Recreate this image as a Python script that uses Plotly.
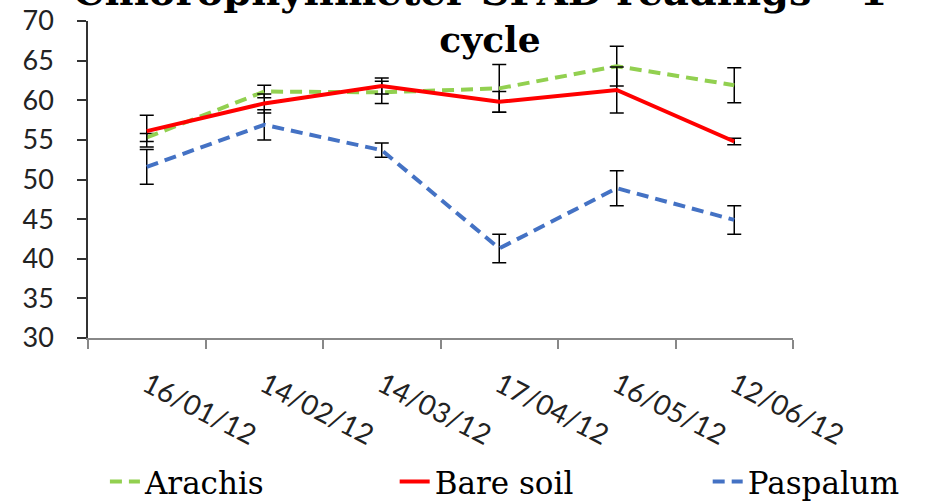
import plotly.graph_objects as go

dates = ["16/01/12", "14/02/12", "14/03/12", "17/04/12", "16/05/12", "12/06/12"]

arachis = [55.3, 61.1, 61.0, 61.5, 64.3, 61.9]
arachis_err = [0.5, 0.8, 1.4, 3.0, 2.5, 2.2]

bare_soil = [56.1, 59.6, 61.8, 59.8, 61.3, 54.8]
bare_soil_err = [2.0, 1.2, 1.0, 1.3, 2.9, 0.4]

paspalum = [51.6, 56.9, 53.7, 41.3, 48.9, 44.9]
paspalum_err = [2.2, 1.9, 0.9, 1.8, 2.2, 1.8]

y_ticks = [30, 35, 40, 45, 50, 55, 60, 65, 70]

title_line1 = "Chlorophyllmeter SPAD readings – 1°"
title_line2 = "cycle"

def err(v):
    return dict(type="data", array=v, visible=True, color="#000000",
                thickness=1.5, width=7)

fig = go.Figure()
fig.add_trace(go.Scatter(
    x=dates, y=arachis, name="Arachis", mode="lines", legend="legend",
    line=dict(color="#92D050", width=4, dash="12px,7px"),
    error_y=err(arachis_err)))
fig.add_trace(go.Scatter(
    x=dates, y=bare_soil, name="Bare soil", mode="lines", legend="legend2",
    line=dict(color="#FF0000", width=4),
    error_y=err(bare_soil_err)))
fig.add_trace(go.Scatter(
    x=dates, y=paspalum, name="Paspalum", mode="lines", legend="legend3",
    line=dict(color="#4472C4", width=4, dash="12px,7px"),
    error_y=err(paspalum_err)))

legend_font = dict(family="DejaVu Serif", size=31, color="#000000")
legend_common = dict(orientation="h", xanchor="left", y=-0.454, yanchor="middle",
                     font=legend_font, bgcolor="rgba(0,0,0,0)")

fig.update_layout(
    width=928, height=502,
    margin=dict(l=88, r=135, t=21, b=164, autoexpand=False),
    paper_bgcolor="white", plot_bgcolor="white",
    title=dict(text='<span style="font-size:40px">' + title_line1 + "</span><br>" + title_line2,
               x=0.528, xanchor="center",
               yref="container", y=0.99, yanchor="bottom",
               font=dict(family="DejaVu Serif", size=36, color="#000000",
                         weight="bold")),
    legend=dict(x=0.024, **legend_common),
    legend2=dict(x=0.435, **legend_common),
    legend3=dict(x=0.879, **legend_common),
    showlegend=True,
)

fig.update_xaxes(
    type="category", range=[-0.5, 5.5], automargin=False,
    showline=True, linecolor="#888888", linewidth=1.5,
    ticks="outside", tickson="boundaries", ticklen=9, tickcolor="#888888",
    tickwidth=1.5, showgrid=False, zeroline=False,
    tickangle=27, ticklabelstandoff=18,
    tickfont=dict(family="Lato", size=28, color="#222222"),
)
fig.update_yaxes(
    range=[30, 70], tickvals=y_ticks, ticktext=[str(v) for v in y_ticks],
    automargin=False,
    showline=True, linecolor="#333333", linewidth=1.5,
    ticks="outside", ticklen=9, tickcolor="#333333", tickwidth=1.5,
    showgrid=False, zeroline=False, ticklabelstandoff=18,
    tickfont=dict(family="Lato", size=27, color="#222222"),
)

fig.write_html("out.html", config={"displayModeBar": False},
               post_script="document.body.style.margin='0px';")
